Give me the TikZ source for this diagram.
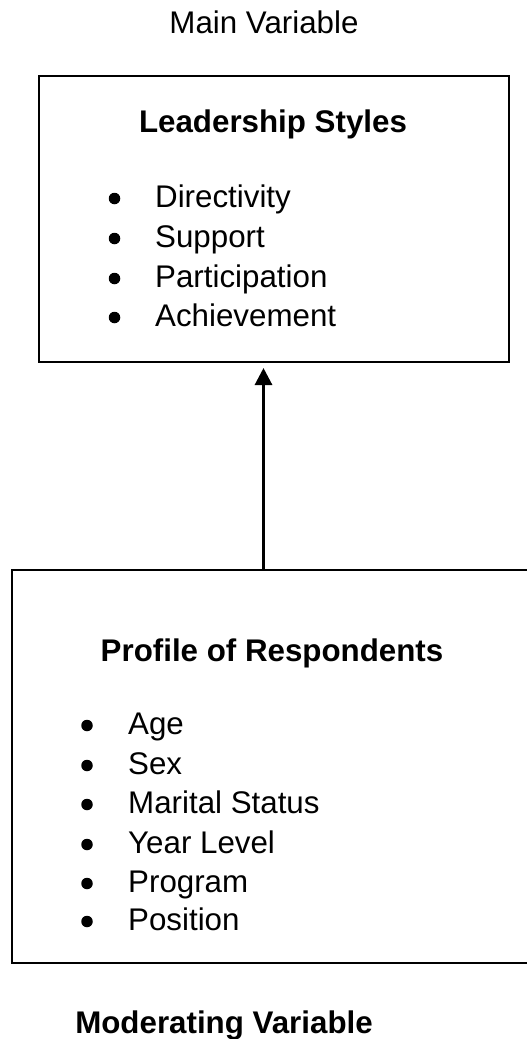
\documentclass[tikz,border=0pt]{standalone}
\usepackage{fontspec}
\setmainfont{Liberation Sans}
\usetikzlibrary{arrows.meta}
\begin{document}
\begin{tikzpicture}[x=1pt,y=-1pt,
  txt/.style={font=\fontsize{31.3}{36}\selectfont, inner sep=0pt, anchor=base west},
  ttl/.style={font=\fontsize{31.3}{36}\selectfont\bfseries, inner sep=0pt, anchor=base},
  bul/.style={circle, fill=black, inner sep=0pt, minimum size=11.5pt},
  boxline/.style={draw=black, line width=1.3pt},
  arr/.style={line width=3pt, -{Triangle[width=17pt,length=17pt]}}]
\useasboundingbox (0,0) rectangle (527,1039);
% boxes
\node[boxline, minimum width=470pt, minimum height=286pt, inner sep=0pt] (top) at (274,219) {};
\node[boxline, minimum width=522pt, minimum height=393pt, inner sep=0pt] (bot) at (273,766.5) {};
% titles
\node[font=\fontsize{31.3}{36}\selectfont, inner sep=0pt, anchor=base] (mainv) at (264,33) {Main Variable};
\node[ttl] (lst) at (273,132) {Leadership Styles};
\node[ttl] (prof) at (272,661) {Profile of Respondents};
\node[ttl] (modv) at (224,1033) {Moderating Variable};
% top list
\foreach \t/\y [count=\i] in {Directivity/207,Support/247,Participation/287,Achievement/326}{
  \node[bul] (tb\i) at (114.5,\y-8.5) {};
  \node[txt] (tt\i) at (155,\y) {\t};
}
% bottom list
\foreach \t/\y [count=\i] in {Age/734,Sex/774,Marital Status/813,Year Level/853,Program/892,Position/930}{
  \node[bul] (bb\i) at (87,\y-8.5) {};
  \node[txt] (bt\i) at (128,\y) {\t};
}
% arrow
\coordinate (as) at (263.5,570);
\coordinate (ae) at (263.5,368);
\draw[arr] (as) -- (ae);
\end{tikzpicture}
\end{document}
